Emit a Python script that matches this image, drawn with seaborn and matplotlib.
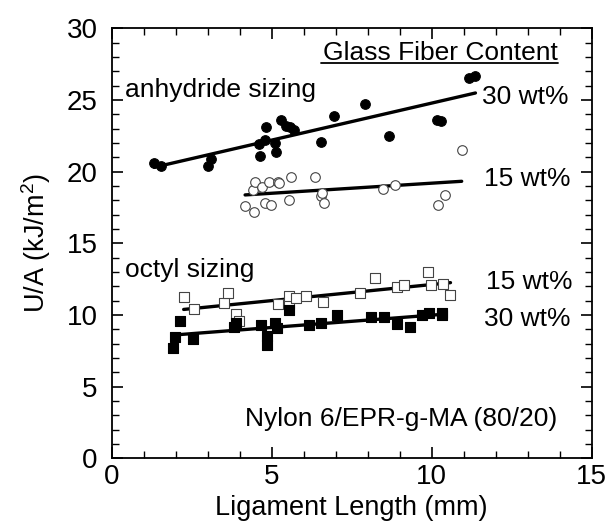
import numpy as np
import pandas as pd
import matplotlib
matplotlib.use("Agg")
import matplotlib.pyplot as plt
import seaborn as sns
from matplotlib.ticker import MultipleLocator

# ---- data ----
anh30_x = [1.33, 1.55, 3.00, 3.10, 4.60, 4.63, 4.78, 4.82, 5.11, 5.14, 5.30, 5.44,
           5.57, 5.70, 6.53, 6.95, 7.93, 8.66, 10.16, 10.30, 11.16, 11.37]
anh30_y = [20.6, 20.4, 20.4, 20.9, 21.9, 21.1, 22.2, 23.1, 22.0, 21.4, 23.6, 23.2,
           23.1, 22.9, 22.1, 23.9, 24.7, 22.5, 23.6, 23.5, 26.5, 26.7]

anh15_x = [4.17, 4.44, 4.41, 4.47, 4.70, 4.79, 4.92, 4.98, 5.20, 5.22, 5.54, 5.59,
           6.34, 6.54, 6.57, 6.64, 8.48, 8.86, 10.20, 10.43, 10.94]
anh15_y = [17.6, 17.2, 18.7, 19.3, 18.9, 17.8, 19.3, 17.7, 19.3, 19.2, 18.0, 19.6,
           19.6, 18.3, 18.5, 17.8, 18.8, 19.1, 17.7, 18.4, 21.5]

oct15_x = [2.25, 2.58, 3.52, 3.65, 3.90, 3.99, 5.20, 5.53, 5.55, 5.76, 6.08, 6.59,
           7.76, 8.22, 8.92, 9.13, 9.88, 9.99, 10.37, 10.59]
oct15_y = [11.24, 10.45, 10.80, 11.50, 10.10, 9.57, 10.78, 10.78, 11.30, 11.17, 11.29, 10.90,
           11.50, 12.60, 11.94, 12.06, 13.03, 12.06, 12.17, 11.38]

oct30_x = [1.92, 1.97, 2.12, 2.53, 3.83, 3.90, 4.66, 4.87, 4.87, 5.10, 5.16, 5.54,
           6.17, 6.54, 7.05, 8.10, 8.50, 8.92, 9.31, 9.69, 9.93, 10.31, 10.34]
oct30_y = [7.71, 8.46, 9.57, 8.29, 9.18, 9.41, 9.31, 8.52, 7.90, 9.45, 9.10, 10.34,
           9.29, 9.45, 9.97, 9.87, 9.87, 9.34, 9.15, 9.97, 10.15, 9.97, 10.15]

series_names = ["anh30", "anh15", "oct15", "oct30"]
x_ticks = [0, 5, 10, 15]
y_ticks = [0, 5, 10, 15, 20, 25, 30]

frames = []
for name, xs, ys in [("anh30", anh30_x, anh30_y), ("anh15", anh15_x, anh15_y),
                     ("oct15", oct15_x, oct15_y), ("oct30", oct30_x, oct30_y)]:
    frames.append(pd.DataFrame({"x": xs, "y": ys, "series": name}))
df = pd.concat(frames, ignore_index=True)

sns.set_theme(style="ticks")
plt.rcParams["font.family"] = ["Liberation Sans", "DejaVu Sans"]
plt.rcParams["mathtext.fontset"] = "custom"
plt.rcParams["mathtext.rm"] = "Liberation Sans"
for k in ["text.color", "axes.labelcolor", "xtick.color", "ytick.color", "axes.edgecolor"]:
    plt.rcParams[k] = "black"

fig = plt.figure(figsize=(6.08, 5.27), dpi=100)
ax = fig.add_axes([0.1837, 0.1304, 0.7893, 0.8159])

styles = {
    "anh30": dict(marker="o", facecolor="black", edgecolor="black", s=48, lw=0.8),
    "anh15": dict(marker="o", facecolor="white", edgecolor="#444444", s=48, lw=0.8),
    "oct15": dict(marker="s", facecolor="white", edgecolor="#444444", s=52, lw=0.8),
    "oct30": dict(marker="s", facecolor="black", edgecolor="black", s=52, lw=0.8),
}

for name in series_names:
    sub = df[df["series"] == name]
    st = styles[name]
    p = np.polyfit(sub["x"], sub["y"], 1)
    xr = np.array([sub["x"].min(), sub["x"].max()])
    sns.lineplot(x=xr, y=np.polyval(p, xr), ax=ax, color="black", linewidth=2.4, zorder=2)
    sns.scatterplot(data=sub, x="x", y="y", ax=ax, marker=st["marker"], s=st["s"],
                    facecolor=st["facecolor"], edgecolor=st["edgecolor"],
                    linewidth=st["lw"], zorder=3, legend=False)

ax.set_xlim(0, 15)
ax.set_ylim(0, 30)
ax.set_xticks(x_ticks)
ax.set_yticks(y_ticks)
ax.xaxis.set_minor_locator(MultipleLocator(1))
ax.yaxis.set_minor_locator(MultipleLocator(1))
ax.tick_params(which="both", direction="in", top=True, right=True, color="black")
ax.tick_params(which="major", length=8, width=1.2, labelsize=20)
ax.tick_params(axis="x", which="major", pad=4)
ax.tick_params(axis="y", which="major", pad=10)
ax.tick_params(which="minor", length=5, width=1.0)
for sp in ax.spines.values():
    sp.set_linewidth(1.3)
    sp.set_color("black")

ax.set_xlabel("Ligament Length (mm)", fontsize=19.5, labelpad=4)
ax.set_ylabel("U/A (kJ/m$^2$)", fontsize=19.5, labelpad=10)

fs = 19
ax.text(13.95, 28.27, "Glass Fiber Content", fontsize=fs, ha="right", va="center")
ax.plot([6.54, 13.95], [27.55, 27.55], color="black", lw=1.3)
ax.text(0.42, 25.67, "anhydride sizing", fontsize=fs, ha="left", va="center")
ax.text(11.58, 25.2, "30 wt%", fontsize=fs, ha="left", va="center")
ax.text(11.64, 19.5, "15 wt%", fontsize=fs, ha="left", va="center")
ax.text(0.42, 13.17, "octyl sizing", fontsize=fs, ha="left", va="center")
ax.text(11.7, 12.29, "15 wt%", fontsize=fs, ha="left", va="center")
ax.text(11.64, 9.69, "30 wt%", fontsize=fs, ha="left", va="center")
ax.text(4.17, 2.72, "Nylon 6/EPR-g-MA (80/20)", fontsize=fs, ha="left", va="center")

fig.savefig("out.png", dpi=100)
